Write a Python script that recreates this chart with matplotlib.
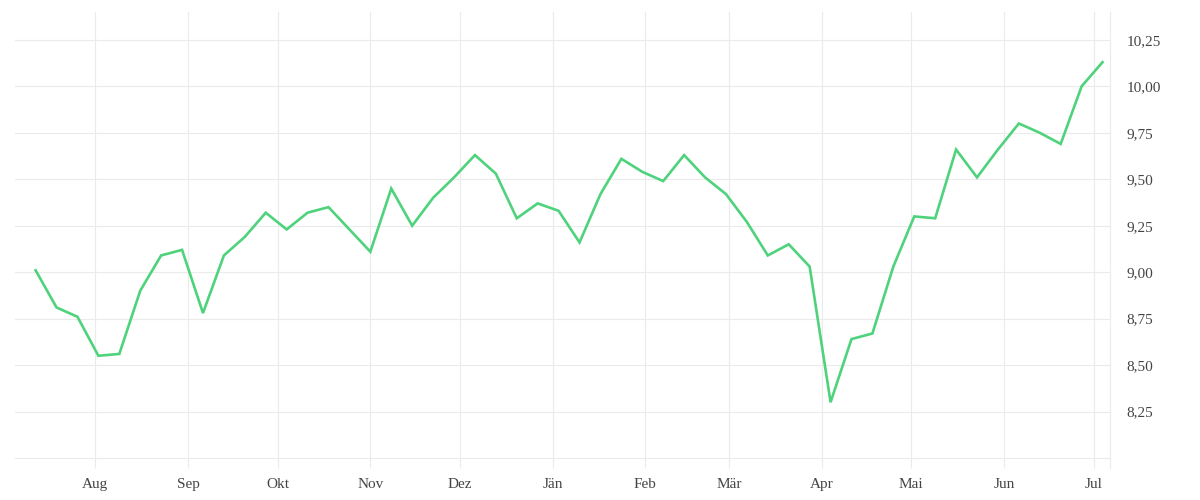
"""Weekly price line, Jul 2024 - Jul 2025 (Austrian month labels)."""

import matplotlib
matplotlib.use("Agg")
import matplotlib.pyplot as plt
import matplotlib.dates as mdates
import numpy as np
import pandas as pd

# weekly closes (Fridays)
dates = pd.date_range("2024-07-12", periods=52, freq="7D")
values = [
    9.01, 8.81, 8.76, 8.55, 8.56, 8.90, 9.09, 9.12, 8.78, 9.09,
    9.19, 9.32, 9.23, 9.32, 9.35, 9.23, 9.11, 9.45, 9.25, 9.40,
    9.51, 9.63, 9.53, 9.29, 9.37, 9.33, 9.16, 9.42, 9.61, 9.54,
    9.49, 9.63, 9.51, 9.42, 9.27, 9.09, 9.15, 9.03, 8.30, 8.64,
    8.67, 9.03, 9.30, 9.29, 9.66, 9.51, 9.66, 9.80, 9.75, 9.69,
    10.00, 10.13,
]

month_ticks = pd.date_range("2024-08-01", "2025-07-01", freq="MS")
month_labels = ["Aug", "Sep", "Okt", "Nov", "Dez", "Jän", "Feb", "Mär",
                "Apr", "Mai", "Jun", "Jul"]
y_ticks = [8.25, 8.50, 8.75, 9.00, 9.25, 9.50, 9.75, 10.00, 10.25]

LINE = "#4ed37c"
GRID = "#ebebeb"
TEXT = "#444444"

plt.rcParams["font.family"] = ["Liberation Serif", "DejaVu Serif"]

fig = plt.figure(figsize=(12, 5), dpi=100)
ax = fig.add_axes([15 / 1200, 1 - 458 / 500, (1110 - 15) / 1200, (458 - 12) / 500])

ax.plot(dates, values, color=LINE, linewidth=1.9, solid_joinstyle="miter",
        zorder=3)

ax.set_xlim(dates[0] - pd.Timedelta(days=6.9), dates[-1] + pd.Timedelta(days=2.5))
ax.set_ylim(8.0, 10.40)

ax.set_xticks(month_ticks)
ax.set_xticklabels(month_labels)
ax.set_yticks(y_ticks)
ax.set_yticklabels([f"{v:.2f}".replace(".", ",") for v in y_ticks])

ax.yaxis.tick_right()
ax.tick_params(axis="y", length=0, pad=12, labelsize=11, labelcolor=TEXT)
ax.tick_params(axis="x", length=7.2, width=0.8, color=GRID, pad=7.5,
               labelsize=11, labelcolor=TEXT)

ax.grid(True, color=GRID, linewidth=0.8)
ax.set_axisbelow(True)
for side in ["left", "top"]:
    ax.spines[side].set_visible(False)
ax.spines["bottom"].set_color(GRID)
ax.spines["bottom"].set_linewidth(0.8)
ax.spines["right"].set_visible(False)
# right edge line, running down past the axis like the month ticks
ax.plot([1, 1], [-0.0224, 1], transform=ax.transAxes, color=GRID,
        linewidth=0.8, clip_on=False)

fig.savefig("out.png", dpi=100)
